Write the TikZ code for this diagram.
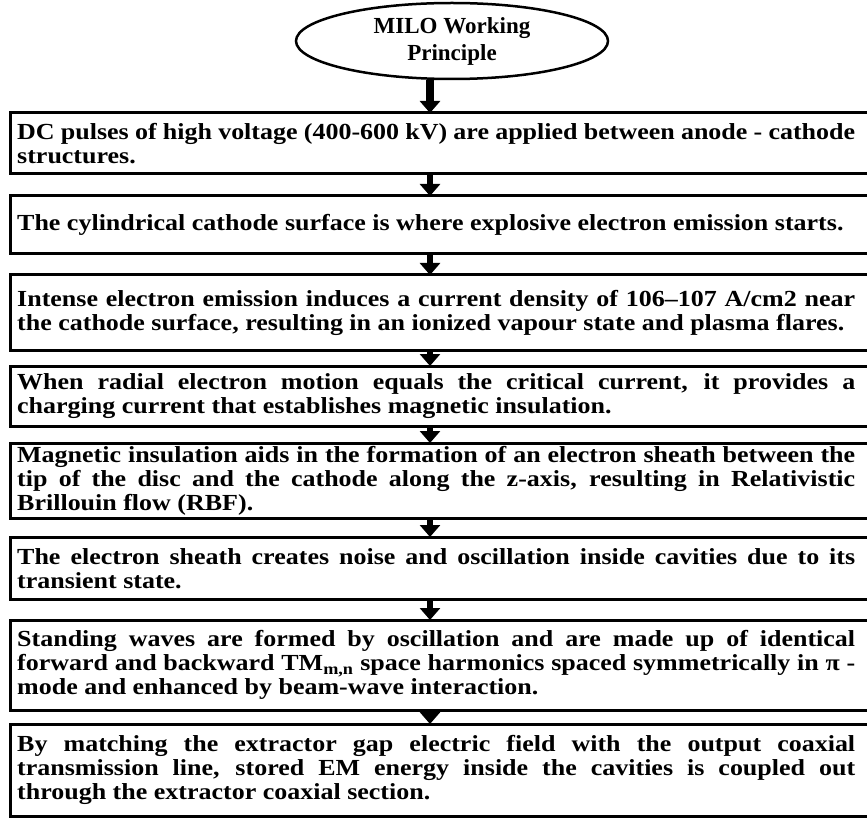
\documentclass[tikz,border=0pt]{standalone}
\usepackage{fontspec}
\setmainfont{Liberation Serif}
\newfontfamily\bodyfont[FakeStretch=1.13]{Liberation Serif}
\newfontfamily\headfont{Liberation Serif}
\usetikzlibrary{shapes.geometric,arrows.meta}
\hyphenpenalty=10000
\exhyphenpenalty=10000
\tikzstyle{title} = [ellipse, draw, line width=2.5pt, minimum width=312pt, minimum height=76pt, inner sep=0pt, align=center, font=\headfont\bfseries\fontsize{23}{27}\selectfont]
\tikzstyle{stepbox} = [anchor=north west, text width=838pt, inner xsep=7pt, inner ysep=2pt, align=justify, font=\bodyfont\bfseries\fontsize{23}{24}\selectfont]
\tikzstyle{frame} = [line width=3pt]
\tikzstyle{flow} = [line width=6pt, -{Triangle[width=20pt,length=12pt]}]

\begin{document}
\begin{tikzpicture}[x=1pt, y=-1pt]

	\useasboundingbox (0,0) rectangle (867,818);
	\clip (0,0) rectangle (867,818);

	\node[title] (head) at (452,41) {MILO Working\\Principle};
	\coordinate (ax) at (430,0);

	\node[stepbox, minimum height=60pt] (s1) at (10,113) {DC pulses of high voltage (400-600 kV) are applied between anode - cathode\linebreak structures.};
	\node[stepbox, minimum height=57pt] (s2) at (10,196) {The cylindrical cathode surface is where explosive electron emission starts.};
	\node[stepbox, minimum height=75pt] (s3) at (10,275) {Intense electron emission induces a current density of 106–107 A/cm2 near\linebreak the cathode surface, resulting in an ionized vapour state and plasma flares.};
	\node[stepbox, minimum height=60pt] (s4) at (10,366) {When radial electron motion equals the critical current, it provides a\linebreak charging current that establishes magnetic insulation.};
	\node[stepbox, minimum height=75pt] (s5) at (10,443) {Magnetic insulation aids in the formation of an electron sheath between the\linebreak tip of the disc and the cathode along the z-axis, resulting in Relativistic\linebreak Brillouin flow (RBF).};
	\node[stepbox, minimum height=62pt] (s6) at (10,537) {The electron sheath creates noise and oscillation inside cavities due to its\linebreak transient state.};
	\node[stepbox, minimum height=90pt] (s7) at (10,620) {Standing waves are formed by oscillation and are made up of identical\linebreak forward and backward TM\textsubscript{m,n} space harmonics spaced symmetrically in π -\linebreak mode and enhanced by beam-wave interaction.};
	\node[stepbox, minimum height=92pt] (s8) at (10,724) {By matching the extractor gap electric field with the output coaxial\linebreak transmission line, stored EM energy inside the cavities is coupled out\linebreak through the extractor coaxial section.};

	% frames run past the right edge
	\foreach \n in {s1,s2,s3,s4,s5,s6,s7,s8}
		\draw[frame] (\n.north west) rectangle ([xshift=30pt]\n.south east);

	\draw[flow, line width=8pt] (head.south -| ax) -- (s1.north -| ax);
	\draw[flow] (s1.south -| ax) -- (s2.north -| ax);
	\draw[flow] (s2.south -| ax) -- (s3.north -| ax);
	\draw[flow] (s3.south -| ax) -- (s4.north -| ax);
	\draw[flow] (s4.south -| ax) -- (s5.north -| ax);
	\draw[flow] (s5.south -| ax) -- (s6.north -| ax);
	\draw[flow] (s6.south -| ax) -- (s7.north -| ax);
	\draw[flow] (s7.south -| ax) -- (s8.north -| ax);

\end{tikzpicture}
\end{document}
